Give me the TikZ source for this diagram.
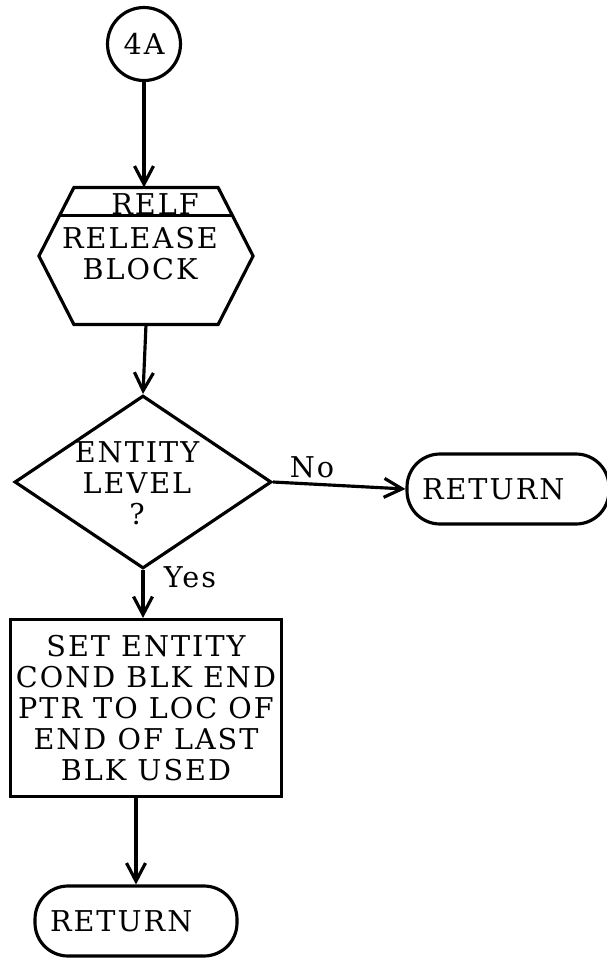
\documentclass[tikz,border=0pt]{standalone}
\usepackage{fontspec}
\setmainfont{DejaVu Serif}[LetterSpace=7]
\usetikzlibrary{arrows.meta,calc,shapes.geometric}

\begin{document}
\begin{tikzpicture}[x=0.02cm,y=-0.02cm,line width=1.8pt,
  every node/.style={font=\fontsize{16.3pt}{17.6pt}\selectfont},
  flow/.style={-{Straight Barb[length=0.36cm,width=0.38cm]}},
  terminal/.style={draw,rounded corners=0.66cm,minimum height=1.4cm,
    text width=3.44cm,inner xsep=0.3cm,align=left},
  procbox/.style={draw,minimum width=5.36cm,minimum height=3.54cm,align=center},
  decision/.style={draw,diamond,minimum width=5.14cm,minimum height=3.46cm,inner sep=0pt},
  frame/.style={minimum width=2.82cm,minimum height=2.68cm,inner sep=0pt}]
\useasboundingbox (0,0) rectangle (607,958);

\node[draw,circle,minimum size=1.46cm,inner sep=0pt] (start) at (144,44) {4A};
\node[frame] (relf) at (146,256) {};
\node[align=center] (relftext) at (140,254) {RELEASE\\BLOCK};
\node[decision] (test) at (143,482) {};
\node[align=center] (testtext) at (137,483) {ENTITY\\LEVEL\\?};
\node[terminal] (ret1) at (508,489) {RETURN};
\node[procbox] (setptr) at (146,708) {SET ENTITY\\COND BLK END\\PTR TO LOC OF\\END OF LAST\\BLK USED};
\node[terminal] (ret2) at (136,921) {RETURN};

\draw (relf.north west) -- (relf.north east) -- ($(relf.east)+(35,0)$) -- (relf.south east)
  -- (relf.south west) -- ($(relf.west)+(-35,0)$) -- cycle;
\draw ($(relf.north west)+(-14.6,28)$) -- ($(relf.north east)+(14.6,28)$);
\node (relfname) at ($(relf.north)+(9,17)$) {RELF};

\draw[flow] (start) -- (start |- relf.north);
\draw[flow] (relf.south) -- (test.north);
\draw[flow] (test.east) -- (ret1.west);
\draw[flow] (test.south) -- (test.south |- setptr.north);
\draw[flow] (setptr.south -| ret2.north) -- (ret2.north);

\node (no) at (312,467) {No};
\node (yes) at (190,577) {Yes};
\end{tikzpicture}
\end{document}
